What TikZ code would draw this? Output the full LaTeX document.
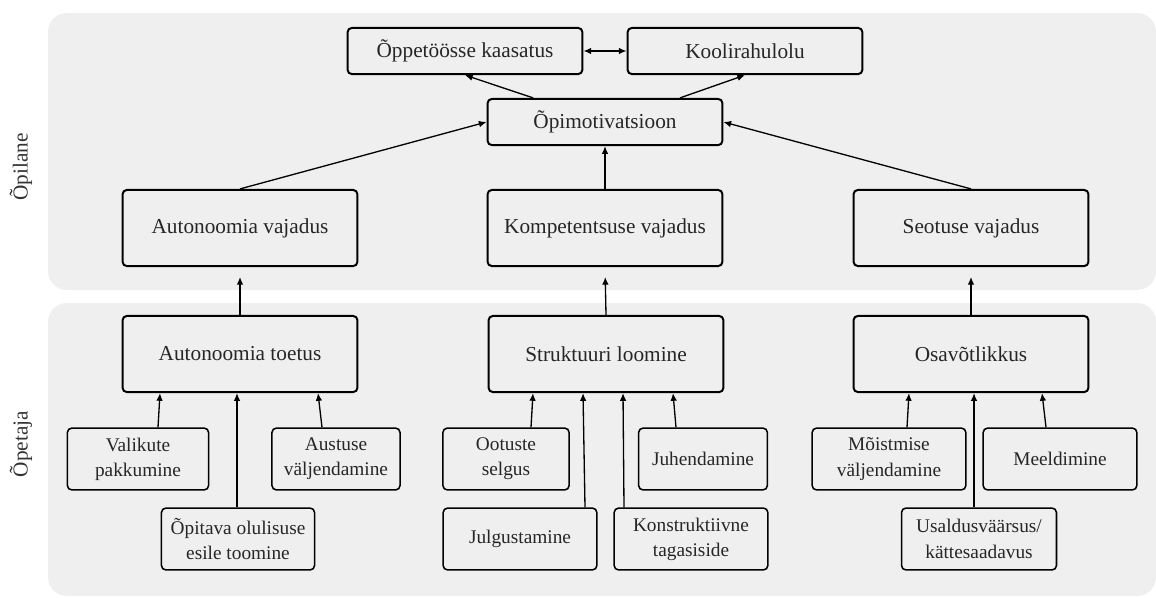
\documentclass[tikz,border=0pt]{standalone}
\usepackage{fontspec}
\setmainfont{Liberation Serif}
\usetikzlibrary{arrows.meta}
\definecolor{panelgray}{HTML}{EFEFEF}

\begin{document}
\begin{tikzpicture}
  [x=0.016cm,y=-0.016cm,
   bigbox/.style={draw, rounded corners=2pt, line width=0.9pt, text=black!85,
     minimum width=3.76cm, minimum height=1.22cm, font=\fontsize{9.7}{12}\selectfont},
   topbox/.style={bigbox, minimum height=0.74cm},
   smallbox/.style={draw, rounded corners=2pt, line width=0.7pt, text=black!85,
     minimum height=0.99cm, align=center, font=\fontsize{8.8}{11.5}\selectfont},
   side/.style={rotate=90, text=black!80, font=\fontsize{9.7}{12}\selectfont},
   link/.style={-{Latex[length=3.5pt,width=3pt]}, line width=0.6pt}]
  \useasboundingbox (0,0) rectangle (1156,597);

  % panels
  \fill[panelgray, rounded corners=0.3cm] (48,13) rectangle (1156,290);
  \fill[panelgray, rounded corners=0.3cm] (48,303) rectangle (1156,596);
  \node[side] (opilane) at (21,167) {Õpilane};
  \node[side] (opetaja) at (21,444) {Õpetaja};

  % student level
  \node[topbox] (kaasatus) at (465,51) {Õppetöösse kaasatus};
  \node[topbox] (kooli) at (745,51) {Koolirahulolu};
  \node[topbox] (motiv) at (605,122) {Õpimotivatsioon};
  \node[bigbox] (avaj) at (240,228) {Autonoomia vajadus};
  \node[bigbox] (kvaj) at (605,228) {Kompetentsuse vajadus};
  \node[bigbox] (svaj) at (971,228) {Seotuse vajadus};

  % teacher level
  \node[bigbox] (atoe) at (240,354) {Autonoomia toetus};
  \node[bigbox] (struk) at (606,354) {Struktuuri loomine};
  \node[bigbox] (osav) at (971,354) {Osavõtlikkus};

  \node[smallbox, minimum width=2.26cm] (valik) at (138,459) {Valikute\\pakkumine};
  \node[smallbox, minimum width=2.05cm] (austus) at (336,459) {Austuse\\väljendamine};
  \node[smallbox, minimum width=2.45cm] (opit) at (238,539) {Õpitava olulisuse\\esile toomine};
  \node[smallbox, minimum width=2.02cm] (ootus) at (506,459) {Ootuste\\selgus};
  \node[smallbox, minimum width=2.06cm] (juhend) at (703,459) {Juhendamine};
  \node[smallbox, minimum width=2.46cm] (julg) at (520,539) {Julgustamine};
  \node[smallbox, minimum width=2.46cm] (konstr) at (691,539) {Konstruktiivne\\tagasiside};
  \node[smallbox, minimum width=2.46cm] (moist) at (889,459) {Mõistmise\\väljendamine};
  \node[smallbox, minimum width=2.46cm] (meeld) at (1060,459) {Meeldimine};
  \node[smallbox, minimum width=2.48cm] (usald) at (979,539) {Usaldusväärsus/\\kättesaadavus};

  \draw[link] ([xshift=-1.15cm]motiv.north) -- (kaasatus.south);
  \draw[link] ([xshift=1.2cm]motiv.north) -- (kooli.south);
  \draw[{Latex[length=3.5pt,width=3pt]}-{Latex[length=3.5pt,width=3pt]}, line width=0.6pt]
    (kaasatus) -- (kooli);

  \foreach \from/\to in {avaj.north/motiv.west,kvaj.north/motiv.south,svaj.north/motiv.east}
    \draw[link] (\from) -- (\to);

  \foreach \from/\to in {atoe/avaj,struk/kvaj,osav/svaj}
    \draw[link, shorten >=4.5pt] (\from.north) -- (\to.south);

  \foreach \from/\a/\to/\b in {valik/20/atoe/-80,austus/-14/atoe/78,opit/-1/atoe/-3,
      ootus/25/struk/-73,julg/65/struk/-23,konstr/-67/struk/17,juhend/-27/struk/67,
      moist/18/osav/-62,usald/-5/osav/3,meeld/-14/osav/71}
    \draw[link] ([xshift=\a*0.016cm]\from.north) -- ([xshift=\b*0.016cm]\to.south);
\end{tikzpicture}
\end{document}
